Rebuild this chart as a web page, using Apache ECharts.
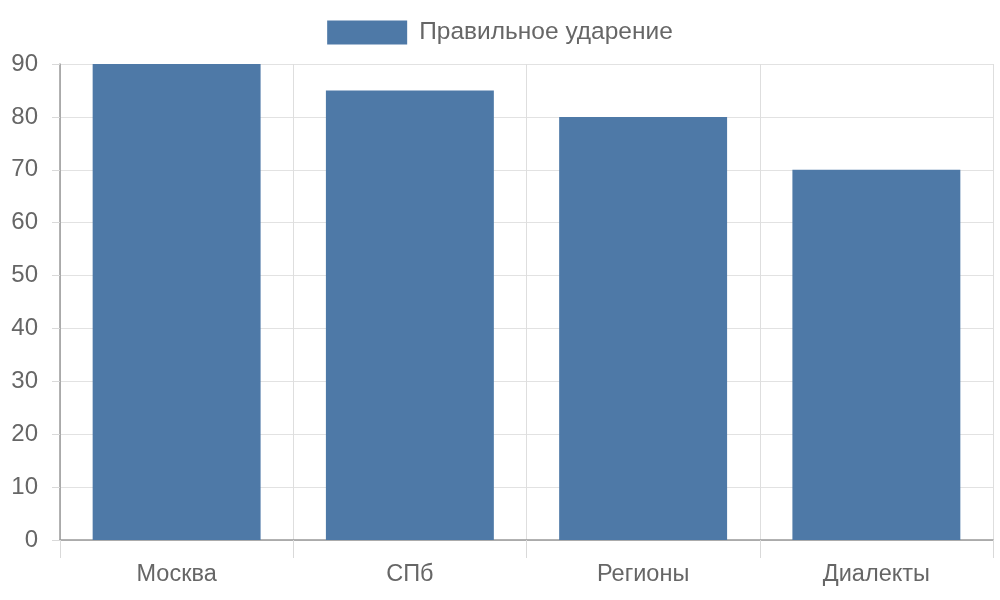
<!DOCTYPE html>
<html><head><meta charset="utf-8">
<script src="https://cdn.jsdelivr.net/npm/echarts@6/dist/echarts.min.js"></script>
<style>html,body{margin:0;padding:0;background:#fff}#c{width:1000px;height:600px}</style>
</head><body><div id="c"></div>
<script>
var categories = ['Москва', 'СПб', 'Регионы', 'Диалекты'];
var seriesName = 'Правильное ударение';
var values = [90, 85, 80, 70];
var chart = echarts.init(document.getElementById('c'));
var font = 'Liberation Sans, Arial, sans-serif';
chart.setOption({
  animation: false,
  legend: {
    top: 15, left: 'center', itemWidth: 80, itemHeight: 24, itemGap: 10,
    textStyle: {fontFamily: font, fontSize: 24.5, color: '#666', padding: [0, 0, 0, 7]},
    data: [{name: seriesName, icon: 'rect'}]
  },
  grid: {left: 60, right: 7, top: 64, bottom: 60, containLabel: false},
  xAxis: {
    type: 'category', data: categories, boundaryGap: true,
    axisLine: {show: true, lineStyle: {color: '#999', width: 1.5}},
    axisTick: {show: true, length: 18, lineStyle: {color: '#d9d9d9'}},
    splitLine: {show: true, lineStyle: {color: '#dedede'}},
    axisLabel: {fontFamily: font, fontSize: 23.5, color: '#666', margin: 23}
  },
  yAxis: {
    type: 'value', min: 0, max: 90, interval: 10,
    axisLine: {show: true, lineStyle: {color: '#999', width: 1.5}},
    axisTick: {show: true, length: 8, lineStyle: {color: '#d9d9d9'}},
    splitLine: {show: true, lineStyle: {color: '#e2e2e2'}},
    axisLabel: {fontFamily: font, fontSize: 24, color: '#666', margin: 22}
  },
  series: [{
    name: seriesName, type: 'bar', data: values, barWidth: '72%',
    itemStyle: {color: '#4e79a7'}
  }]
});
</script></body></html>
